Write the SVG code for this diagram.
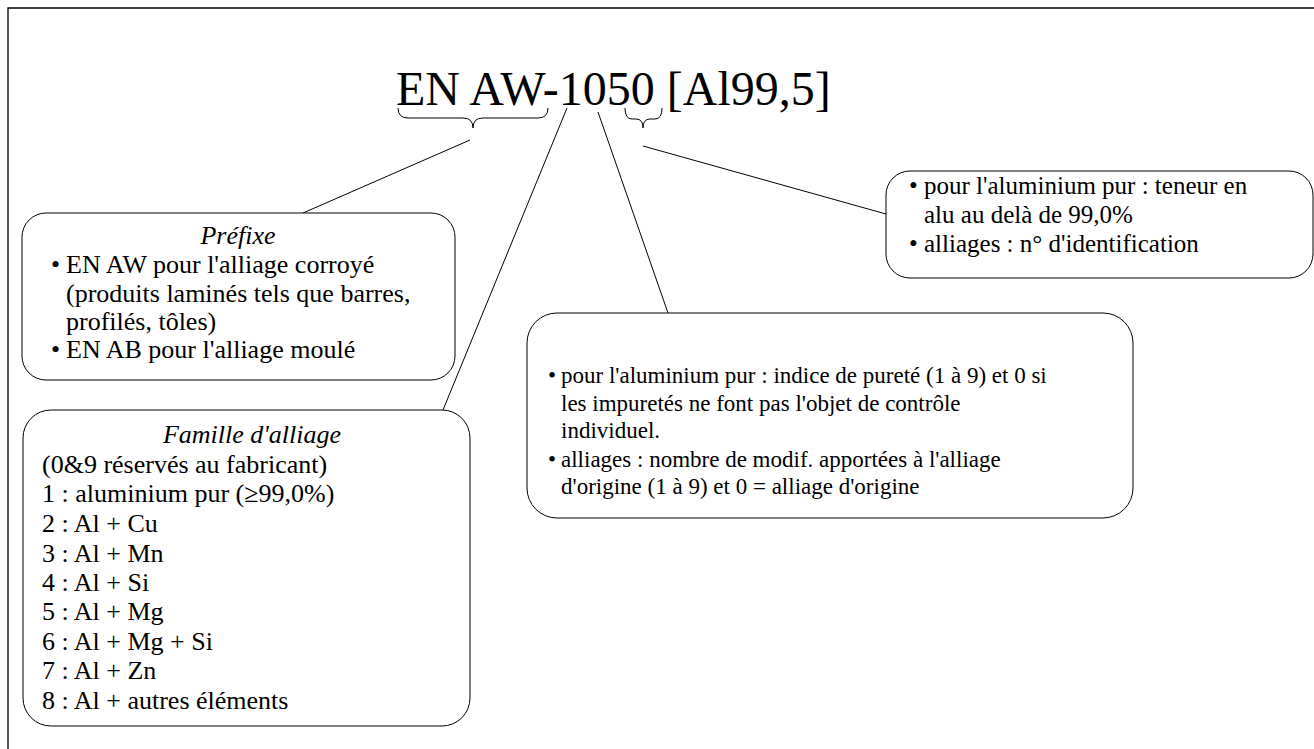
<svg xmlns="http://www.w3.org/2000/svg" width="1314" height="749" viewBox="0 0 1314 749">
<rect x="0" y="0" width="1314" height="749" fill="#fff"/>
<path d="M8,749 L8,8 L1314,8" fill="none" stroke="#000" stroke-width="1.3"/>
<g id="title">
<text x="396" y="105" font-family="Liberation Serif" font-size="48">EN AW-1050 [Al99,5]</text>
<path d="M398,108 Q398,118 408,118 L463,118 Q473,118 473,128 Q473,118 483,118 L538,118 Q548,118 548,108" fill="none" stroke="#000" stroke-width="1"/>
<path d="M625,108 Q625,119 632,119 L636,119 Q643,119 643,128 Q643,119 650,119 L655,119 Q662,119 662,108" fill="none" stroke="#000" stroke-width="1"/>
</g>
<g id="connectors" stroke="#000" stroke-width="1">
<line x1="470" y1="140" x2="303" y2="213"/>
<line x1="567" y1="108" x2="443" y2="410"/>
<line x1="598" y1="112" x2="668" y2="313"/>
<line x1="643" y1="146" x2="886" y2="214"/>
</g>
<g id="prefixe">
<rect x="22" y="213" width="433" height="167" rx="24" fill="#fff" stroke="#000" stroke-width="1"/>
<text x="238" y="244" font-family="Liberation Serif" font-size="26" font-style="italic" text-anchor="middle">Préfixe</text>
<text x="51" y="273" font-family="Liberation Serif" font-size="26">•</text>
<text x="66" y="273" font-family="Liberation Serif" font-size="26">EN AW pour l'alliage corroyé</text>
<text x="66" y="302" font-family="Liberation Serif" font-size="26">(produits laminés tels que barres,</text>
<text x="66" y="330" font-family="Liberation Serif" font-size="26">profilés, tôles)</text>
<text x="51" y="358" font-family="Liberation Serif" font-size="26">•</text>
<text x="66" y="358" font-family="Liberation Serif" font-size="26">EN AB pour l'alliage moulé</text>
</g>
<g id="famille">
<rect x="23" y="410" width="447" height="316" rx="28" fill="#fff" stroke="#000" stroke-width="1"/>
<text x="252" y="443" font-family="Liberation Serif" font-size="26" font-style="italic" text-anchor="middle">Famille d'alliage</text>
<text x="42" y="473" font-family="Liberation Serif" font-size="26">(0&amp;9 réservés au fabricant)</text>
<text x="42" y="502" font-family="Liberation Serif" font-size="26">1 : aluminium pur (≥99,0%)</text>
<text x="42" y="532" font-family="Liberation Serif" font-size="26">2 : Al + Cu</text>
<text x="42" y="562" font-family="Liberation Serif" font-size="26">3 : Al + Mn</text>
<text x="42" y="591" font-family="Liberation Serif" font-size="26">4 : Al + Si</text>
<text x="42" y="620" font-family="Liberation Serif" font-size="26">5 : Al + Mg</text>
<text x="42" y="650" font-family="Liberation Serif" font-size="26">6 : Al + Mg + Si</text>
<text x="42" y="679" font-family="Liberation Serif" font-size="26">7 : Al + Zn</text>
<text x="42" y="709" font-family="Liberation Serif" font-size="26">8 : Al + autres éléments</text>
</g>
<g id="chiffres">
<rect x="527" y="313" width="606" height="205" rx="30" fill="#fff" stroke="#000" stroke-width="1"/>
<text x="548" y="383" font-family="Liberation Serif" font-size="23">•</text>
<text x="561" y="383" font-family="Liberation Serif" font-size="23">pour l'aluminium pur : indice de pureté (1 à 9) et 0 si</text>
<text x="561" y="411" font-family="Liberation Serif" font-size="23">les impuretés ne font pas l'objet de contrôle</text>
<text x="561" y="438" font-family="Liberation Serif" font-size="23">individuel.</text>
<text x="548" y="467" font-family="Liberation Serif" font-size="23">•</text>
<text x="561" y="467" font-family="Liberation Serif" font-size="23">alliages : nombre de modif. apportées à l'alliage</text>
<text x="561" y="494" font-family="Liberation Serif" font-size="23">d'origine (1 à 9) et 0 = alliage d'origine</text>
</g>
<g id="teneur">
<rect x="886" y="171" width="427" height="107" rx="24" fill="#fff" stroke="#000" stroke-width="1"/>
<text x="909" y="194" font-family="Liberation Serif" font-size="25">•</text>
<text x="924" y="194" font-family="Liberation Serif" font-size="25">pour l'aluminium pur : teneur en</text>
<text x="924" y="223" font-family="Liberation Serif" font-size="25">alu au delà de 99,0%</text>
<text x="909" y="252" font-family="Liberation Serif" font-size="25">•</text>
<text x="924" y="252" font-family="Liberation Serif" font-size="25">alliages : n° d'identification</text>
</g>
</svg>
